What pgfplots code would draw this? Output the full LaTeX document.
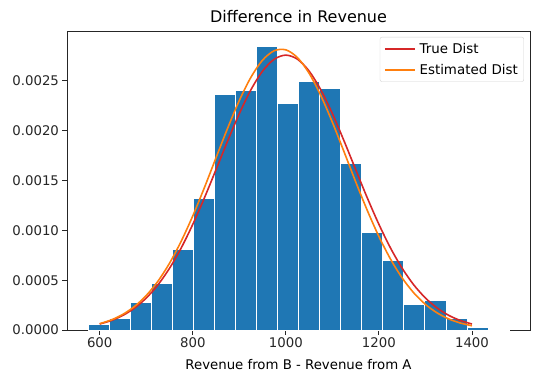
\documentclass[border=0pt]{standalone}
\usepackage{fontspec}
\setmainfont{DejaVu Sans}
\usepackage{pgfplots}
\pgfplotsset{compat=1.18}
\definecolor{barblue}{HTML}{1F77B4}
\definecolor{truered}{HTML}{D62728}
\definecolor{estorange}{HTML}{FF7F0E}
\definecolor{axgray}{HTML}{262626}
\begin{document}
\begin{tikzpicture}
\useasboundingbox (-67pt,-53pt) rectangle (473pt,330pt);
\begin{axis}[
  scale only axis,
  width=463pt, height=299pt,
  xmin=529.7, xmax=1524.7,
  ymin=0, ymax=0.003,
  xtick={600,800,1000,1200,1400},
  ytick={0,0.0005,0.001,0.0015,0.002,0.0025},
  scaled y ticks=false,
  yticklabel style={/pgf/number format/fixed, /pgf/number format/fixed zerofill, /pgf/number format/precision=4},
  xticklabel style={/pgf/number format/1000 sep={}},
  /pgf/number format/assume math mode=true,
  tick label style={font=\fontsize{13.3}{15}\selectfont, text=axgray},
  tick pos=left,
  tick align=outside,
  major tick length=4.5pt,
  every tick/.style={axgray, line width=0.9pt},
  axis line style={axgray, line width=0.9pt},
  title={Difference in Revenue},
  title style={font=\fontsize{16}{19}\selectfont, at={(0.5,1)}, anchor=base, yshift=2.5pt},
  xlabel={Revenue from B - Revenue from A},
  xlabel style={font=\fontsize{13.3}{15}\selectfont, at={(0.5,0)}, anchor=base, yshift=-39pt},
  legend style={at={(0.987,0.98)}, anchor=north east, draw=gray!35, rounded corners=2pt,
    font=\fontsize{13.4}{16}\selectfont, inner xsep=4pt, inner ysep=4pt, row sep=5pt,
    /tikz/every odd column/.append style={column sep=2pt}},
  legend cell align=left,
  legend image code/.code={\draw[#1] (0pt,0pt) -- (30pt,0pt);},
]
\addlegendimage{truered, line width=1.6pt}
\addlegendimage{estorange, line width=1.6pt}
\addplot[ybar interval, fill=barblue, draw=white, line width=1pt, forget plot] coordinates {
(575,0.0000572) (620.25,0.000117) (665.5,0.000274) (710.75,0.000471) (756,0.000809)
(801.25,0.001317) (846.5,0.00236) (891.75,0.002407) (937,0.002848) (982.25,0.002273)
(1027.5,0.002494) (1072.75,0.002424) (1118,0.001672) (1163.25,0.000983) (1208.5,0.000702)
(1253.75,0.000257) (1299,0.000298) (1344.25,0.000117) (1389.5,0.00003) (1434.75,0.000007)
(1480,0.000007)
};
\addplot[truered, line width=1.6pt, smooth, forget plot] coordinates {
(600,0.0000601) (625,0.0000955) (650,0.000147) (675,0.000221) (700,0.000321)
(725,0.000452) (750,0.000619) (775,0.000822) (800,0.001060) (825,0.001326)
(850,0.001610) (875,0.001898) (900,0.002171) (925,0.002411) (950,0.002598)
(975,0.002717) (1000,0.002758) (1025,0.002717) (1050,0.002598) (1075,0.002411)
(1100,0.002171) (1125,0.001898) (1150,0.001610) (1175,0.001326) (1200,0.001060)
(1225,0.000822) (1250,0.000619) (1275,0.000452) (1300,0.000321) (1325,0.000221)
(1350,0.000147) (1375,0.0000955) (1400,0.0000601)
};
\addplot[estorange, line width=1.6pt, smooth, forget plot] coordinates {
(600,0.0000635) (625,0.0001016) (650,0.0001578) (675,0.0002373) (700,0.000346)
(725,0.000489) (750,0.000670) (775,0.000890) (800,0.001145) (825,0.001429)
(850,0.001729) (875,0.002026) (900,0.002303) (925,0.002536) (950,0.002708)
(975,0.002802) (1000,0.002811) (1025,0.002733) (1050,0.002576) (1075,0.002353)
(1100,0.002084) (1125,0.001789) (1150,0.001488) (1175,0.001200) (1200,0.000938)
(1225,0.000711) (1250,0.000522) (1275,0.000372) (1300,0.000257) (1325,0.000172)
(1350,0.000111) (1375,0.0000699) (1400,0.0000426)
};
\legend{True Dist, Estimated Dist}
\end{axis}
\end{tikzpicture}
\end{document}
